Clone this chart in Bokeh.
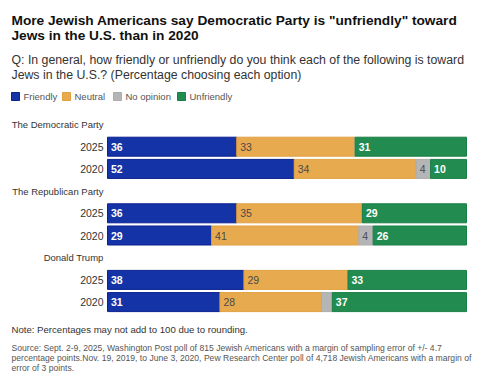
from bokeh.plotting import figure
from bokeh.models import Range1d, ColumnDataSource, Label
from bokeh.core.properties import value
from bokeh.embed import file_html
from bokeh.resources import INLINE

# ---- data ----
groups = ["The Democratic Party", "The Republican Party", "Donald Trump"]
years = ["2025", "2020"]
categories = ["Friendly", "Neutral", "No opinion", "Unfriendly"]
friendly = [36, 52, 36, 29, 38, 31]
neutral = [33, 34, 35, 41, 29, 28]
no_opinion = [0, 4, 0, 4, 0, 3]
unfriendly = [31, 10, 29, 26, 33, 37]

colors = ["#1433a6", "#e8aa4e", "#b5b5b5", "#228c50"]
borders = ["#0b2190", "#e0a040", "#acacac", "#1a7f45"]
label_colors = ["white", "#4a4a4a", "#4a4a4a", "white"]
label_styles = ["bold", "normal", "normal", "bold"]

FONT = "Liberation Sans"
W, H = 500, 379
# pixel layout helpers (frame covers whole canvas)
bar_left_px, bar_right_px = 107, 466
row_px = 22.2
first_row_center_px = 146.2
ppu_x = (bar_right_px - bar_left_px) / 100.0
x0 = -bar_left_px / ppu_x
x1 = 100 + (W - bar_right_px) / ppu_x
y_top = -first_row_center_px / row_px
y_bot = (H - first_row_center_px) / row_px

def px_x(px):
    return x0 + px / ppu_x

def px_y(px):
    return y_top + px / row_px

p = figure(width=W, height=H, output_backend="svg", toolbar_location=None,
           x_range=Range1d(x0, x1), y_range=Range1d(y_bot, y_top),
           min_border=0, min_border_left=0, min_border_right=0,
           min_border_top=0, min_border_bottom=0)
p.axis.visible = False
p.grid.visible = False
p.outline_line_color = None
p.background_fill_color = "white"

# row positions: 3 rows per group (header + 2 years)
ys = []
for gi in range(len(groups)):
    for yi in range(len(years)):
        ys.append(gi * 3 + yi)

series = [friendly, neutral, no_opinion, unfriendly]
n = len(ys)
totals = [sum(s[i] for s in series) for i in range(n)]
left = [0.0] * n
bar_h = 19 / row_px
for ci, s in enumerate(series):
    share = [s[i] * 100.0 / totals[i] for i in range(n)]
    right = [left[i] + share[i] for i in range(n)]
    src = ColumnDataSource(dict(y=ys, left=left, right=right))
    p.hbar(y="y", left="left", right="right", height=bar_h, source=src,
           fill_color=colors[ci], line_color=borders[ci], line_width=1)
    lx, ly, lt = [], [], []
    for i in range(n):
        if s[i] >= 4:
            lx.append(left[i] + 3.5 / ppu_x)
            ly.append(ys[i])
            lt.append(str(s[i]))
    lsrc = ColumnDataSource(dict(x=lx, y=ly, t=lt))
    p.text(x="x", y="y", text="t", source=lsrc, text_color=label_colors[ci],
           text_font=value(FONT), text_font_size="10.5px",
           text_font_style=label_styles[ci], text_baseline="middle", text_align="left")
    left = right

# year labels and group headers (right-aligned)
ylab = [years[i % 2] for i in range(n)]
p.text(x=[px_x(103)] * n, y=ys, text=ylab, text_color="#333333", text_font=value(FONT),
       text_font_size="10.5px", text_baseline="middle", text_align="right")
hy = [gi * 3 - 1 for gi in range(len(groups))]
p.text(x=[px_x(103)] * len(groups), y=hy, text=groups, text_color="#333333",
       text_font=value(FONT), text_font_size="9.5px",
       text_baseline="middle", text_align="right")

def label(text, xp, yp, size, color="#222222", style="normal"):
    p.add_layout(Label(x=px_x(xp), y=px_y(yp), text=text, text_font_size=size,
                       text_color=color, text_font_style=style, text_font=FONT,
                       text_baseline="middle", text_align="left"))

# title / subtitle
label('More Jewish Americans say Democratic Party is "unfriendly" toward', 11, 19.5, "13.7px",
      "#111111", "bold")
label("Jews in the U.S. than in 2020", 11, 35, "13.7px", "#111111", "bold")
label("Q: In general, how friendly or unfriendly do you think each of the following is toward",
      11, 59, "12.3px", "#333333")
label("Jews in the U.S.? (Percentage choosing each option)", 11, 74, "12.3px", "#333333")

# legend
leg_x = [11, 62, 113, 177]
for ci, cat in enumerate(categories):
    p.rect(x=[px_x(leg_x[ci] + 4)], y=[px_y(96)], width=8 / ppu_x, height=8 / row_px,
           fill_color=colors[ci], line_color=borders[ci])
    label(cat, leg_x[ci] + 12, 96, "9.5px", "#555555")

# note and source
label("Note: Percentages may not add to 100 due to rounding.", 11, 329, "9.6px", "#333333")
label("Source: Sept. 2-9, 2025, Washington Post poll of 815 Jewish Americans with a margin of sampling error of +/- 4.7",
      11, 347, "8.6px", "#555555")
label("percentage points.Nov. 19, 2019, to June 3, 2020, Pew Research Center poll of 4,718 Jewish Americans with a margin of",
      11, 357.5, "8.6px", "#555555")
label("error of 3 points.", 11, 367, "8.6px", "#555555")

open("out.html", "w").write(file_html(p, INLINE))
